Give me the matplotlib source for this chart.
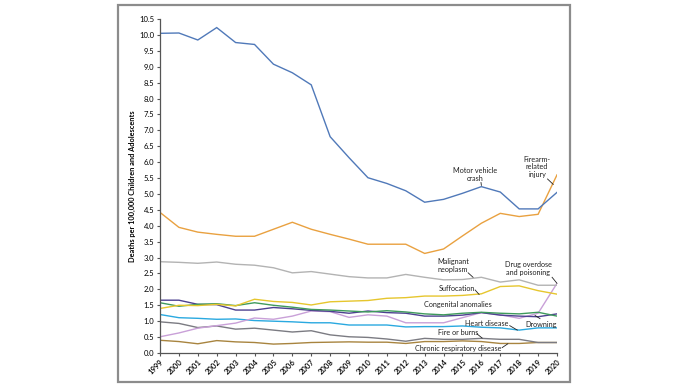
import matplotlib
matplotlib.use("Agg")
import matplotlib.pyplot as plt
import matplotlib.patches as patches

plt.rcParams['font.family'] = ['Lato', 'DejaVu Sans']

# --- данные ---
years = list(range(1999, 2021))

motor = [10.05, 10.06, 9.84, 10.23, 9.76, 9.70, 9.08, 8.81, 8.43, 6.80, 6.14,
         5.51, 5.33, 5.10, 4.74, 4.83, 5.02, 5.23, 5.06, 4.53, 4.53, 5.05]
firearm = [4.42, 3.95, 3.80, 3.73, 3.67, 3.67, 3.89, 4.11, 3.89, 3.73, 3.58,
           3.42, 3.42, 3.42, 3.13, 3.27, 3.68, 4.08, 4.39, 4.29, 4.36, 5.60]
malignant = [2.87, 2.85, 2.82, 2.86, 2.79, 2.76, 2.68, 2.52, 2.56, 2.48, 2.40,
             2.36, 2.36, 2.47, 2.38, 2.30, 2.31, 2.38, 2.23, 2.30, 2.13, 2.13]
suffocation = [1.40, 1.50, 1.49, 1.53, 1.48, 1.69, 1.62, 1.59, 1.51, 1.61, 1.63,
               1.65, 1.72, 1.74, 1.79, 1.79, 1.81, 1.86, 2.09, 2.11, 1.96, 1.85]
drug = [0.51, 0.63, 0.78, 0.86, 0.94, 1.10, 1.06, 1.16, 1.32, 1.30, 1.12,
        1.20, 1.16, 0.95, 0.95, 0.95, 1.11, 1.27, 1.20, 1.09, 1.25, 2.19]
congenital = [1.58, 1.47, 1.53, 1.55, 1.49, 1.58, 1.50, 1.44, 1.37, 1.35, 1.32,
              1.29, 1.33, 1.29, 1.23, 1.20, 1.25, 1.28, 1.25, 1.23, 1.28, 1.16]
heart = [1.21, 1.11, 1.09, 1.06, 1.07, 1.02, 1.00, 0.98, 0.95, 0.95, 0.88,
         0.88, 0.88, 0.82, 0.83, 0.83, 0.85, 0.81, 0.79, 0.72, 0.79, 0.79]
drowning = [1.66, 1.66, 1.53, 1.52, 1.35, 1.35, 1.43, 1.39, 1.34, 1.31, 1.25,
            1.32, 1.27, 1.25, 1.16, 1.16, 1.19, 1.27, 1.19, 1.16, 1.14, 1.23]
fire = [0.98, 0.93, 0.80, 0.85, 0.75, 0.78, 0.72, 0.66, 0.70, 0.57, 0.51,
        0.49, 0.44, 0.37, 0.46, 0.43, 0.43, 0.46, 0.43, 0.43, 0.33, 0.33]
chronic = [0.40, 0.36, 0.29, 0.39, 0.35, 0.33, 0.28, 0.30, 0.33, 0.34, 0.35,
           0.34, 0.34, 0.30, 0.36, 0.36, 0.38, 0.36, 0.30, 0.30, 0.33, 0.33]

series = [
    (chronic, '#a8843f'),
    (fire, '#7b7b82'),
    (heart, '#2aa9e0'),
    (drug, '#c9a0d8'),
    (drowning, '#4d4190'),
    (congenital, '#3f9a5c'),
    (suffocation, '#e6c62e'),
    (malignant, '#b3b3b3'),
    (firearm, '#e9a140'),
    (motor, '#5079b9'),
]

# подписи: текст, позиция текста, начало и конец выноски
labels = [
    ("Motor vehicle\ncrash", (2015.67, 5.61), ((2015.98, 5.36), (2016.0, 5.27))),
    ("Firearm-\nrelated\ninjury", (2018.95, 5.85), ((2019.5, 5.47), (2019.8, 5.30))),
    ("Malignant\nneoplasm", (2014.5, 2.75), ((2015.3, 2.52), (2015.56, 2.38))),
    ("Drug overdose\nand poisoning", (2018.47, 2.66), ((2019.74, 2.38), (2020.0, 2.19))),
    ("Suffocation", (2014.71, 2.04), ((2015.67, 1.98), (2015.88, 1.84))),
    ("Congenital anomalies", (2014.77, 1.54), None),
    ("Heart disease", (2016.3, 0.94), ((2017.5, 0.86), (2017.9, 0.72))),
    ("Drowning", (2019.16, 0.91), ((2019.1, 1.08), (2018.84, 1.18))),
    ("Fire or burns", (2014.77, 0.63), ((2015.77, 0.60), (2016.04, 0.47))),
    ("Chronic respiratory disease", (2014.77, 0.13), ((2017.1, 0.17), (2017.4, 0.29))),
]

fig = plt.figure(figsize=(6.89, 3.88), dpi=100)

# серая рамка вокруг всей картинки
frame = patches.Rectangle((118 / 689, 1 - 382 / 388), (570 - 118) / 689, (382 - 5) / 388,
                          transform=fig.transFigure, fill=False,
                          edgecolor='#8c8c8c', linewidth=1.6)
fig.patches.append(frame)

ax = fig.add_axes([160 / 689, 35 / 388, (557 - 160) / 689, (353 - 19) / 388])

for values, color in series:
    ax.plot(years, values, color=color, linewidth=1.0, solid_joinstyle='miter')

ax.set_xlim(1999, 2020)
ax.set_ylim(0, 10.5)
ax.set_xticks(years)
ax.set_xticklabels([str(y) for y in years], rotation=45, ha='right',
                   rotation_mode='anchor', fontsize=5.5, fontweight='semibold')
yt = [i * 0.5 for i in range(22)]
ax.set_yticks(yt)
ax.set_yticklabels([f"{v:.1f}" for v in yt], fontsize=5.5)

for side in ['top', 'right']:
    ax.spines[side].set_visible(False)
for side in ['left', 'bottom']:
    ax.spines[side].set_color('#555555')
    ax.spines[side].set_linewidth(0.9)
ax.tick_params(axis='both', direction='out', length=2.5, width=0.8,
               color='#555555', pad=1.5)

for text, pos, leader in labels:
    ax.text(pos[0], pos[1], text, ha='center', va='center', fontsize=5.2,
            color='#222222', linespacing=1.1)
    if leader is not None:
        ax.plot([leader[0][0], leader[1][0]], [leader[0][1], leader[1][1]],
                color='#222222', linewidth=0.6, clip_on=False)

fig.text(132 / 689, 1 - 186 / 388, "Deaths per 100,000 Children and Adolescents",
         rotation=90, ha='center', va='center', fontsize=5.3, fontweight='bold')

fig.savefig("out.png", dpi=100)
